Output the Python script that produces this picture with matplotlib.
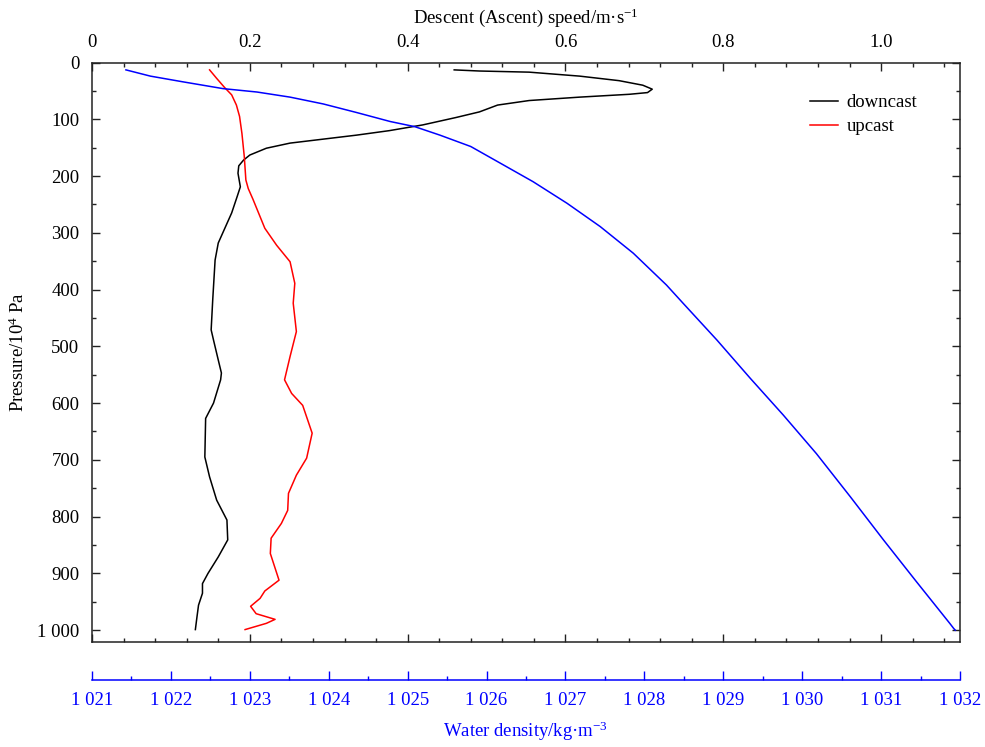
import numpy as np
import matplotlib
matplotlib.use("Agg")
import matplotlib.pyplot as plt
from matplotlib.ticker import MultipleLocator, FuncFormatter

# ------------------------------------------------
# Data
# ------------------------------------------------
# downcast descent speed (m/s) vs pressure (10^4 Pa)
down_p = [13, 15, 17, 24, 32, 40, 47, 53, 56, 61, 67, 75, 87, 97, 110, 120, 128,
          135, 142, 151, 163, 172, 182, 195, 219, 236, 265, 318, 348, 418, 471,
          489, 524, 547, 559, 600, 627, 695, 730, 771, 806, 841, 871, 900, 918,
          935, 956, 977, 999]
down_v = [0.459, 0.491, 0.554, 0.618, 0.668, 0.698, 0.710, 0.704, 0.681, 0.618,
          0.554, 0.514, 0.491, 0.461, 0.419, 0.377, 0.335, 0.293, 0.251, 0.221,
          0.200, 0.192, 0.186, 0.185, 0.188, 0.184, 0.177, 0.160, 0.156, 0.153,
          0.151, 0.154, 0.160, 0.164, 0.163, 0.154, 0.144, 0.143, 0.149, 0.158,
          0.171, 0.172, 0.160, 0.147, 0.140, 0.140, 0.135, 0.133, 0.131]

# upcast ascent speed (m/s) vs pressure
up_p = [13, 28, 44, 57, 75, 95, 125, 166, 207, 222, 241, 292, 322, 351, 389, 424,
        474, 518, 559, 583, 604, 653, 697, 727, 759, 789, 812, 838, 865, 912,
        931, 944, 958, 971, 981, 988, 999]
up_v = [0.149, 0.158, 0.168, 0.177, 0.183, 0.187, 0.190, 0.193, 0.195, 0.198,
        0.204, 0.219, 0.234, 0.251, 0.257, 0.255, 0.259, 0.251, 0.244, 0.253,
        0.267, 0.279, 0.272, 0.259, 0.249, 0.248, 0.240, 0.227, 0.226, 0.237,
        0.219, 0.213, 0.201, 0.208, 0.232, 0.221, 0.194]

# water density (kg/m^3) vs pressure
dens_p = [13, 24, 34, 46, 52, 61, 73, 88, 104, 113, 128, 148, 177, 210, 248,
          289, 336, 392, 424, 489, 556, 621, 689, 765, 841, 915, 988, 997, 1000]
dens = [1021.43, 1021.74, 1022.15, 1022.66, 1023.09, 1023.51, 1023.93,
        1024.35, 1024.78, 1025.09, 1025.41, 1025.80, 1026.17, 1026.59, 1027.02,
        1027.44, 1027.86, 1028.28, 1028.49, 1028.92, 1029.34, 1029.76, 1030.18,
        1030.61, 1031.03, 1031.45, 1031.87, 1031.92, 1031.94]

plt.rcParams["font.family"] = ["Liberation Serif", "DejaVu Serif"]
plt.rcParams["mathtext.fontset"] = "custom"
plt.rcParams["mathtext.rm"] = "Liberation Serif"
plt.rcParams["mathtext.it"] = "Liberation Serif:italic"
plt.rcParams["font.size"] = 13.5


def thousands(v, pos):
    s = f"{int(round(v)):,}"
    return s.replace(",", " ")


fig = plt.figure(figsize=(9.85, 7.47), dpi=100)
ax = fig.add_axes([92 / 985, 1 - 641.5 / 747, 868 / 985, 579 / 747])

# density axis first (twiny resets the host's tick sides)
ax2 = ax.twiny()
ax2.plot(dens, dens_p, color="blue", lw=1.1)
ax2.set_xlim(1021, 1032)
ax2.xaxis.set_ticks_position("bottom")
ax2.xaxis.set_label_position("bottom")
for name in ("top", "left", "right"):
    ax2.spines[name].set_visible(False)
ax2.spines["bottom"].set_position(("outward", 27.7))
ax2.spines["bottom"].set_color("blue")
ax2.spines["bottom"].set_linewidth(1.1)
ax2.xaxis.set_major_locator(MultipleLocator(1))
ax2.xaxis.set_minor_locator(MultipleLocator(0.5))
ax2.xaxis.set_major_formatter(FuncFormatter(thousands))
ax2.tick_params(axis="x", which="both", direction="in", colors="blue", width=1.0)
ax2.tick_params(axis="x", which="major", length=6.5, pad=9)
ax2.tick_params(axis="x", which="minor", length=3)
ax2.set_xlabel(r"Water density/kg·m$^{-3}$", color="blue", labelpad=7)

# speed curves on the host axes
ax.plot(down_v, down_p, color="black", lw=1.1, label="downcast")
ax.plot(up_v, up_p, color="red", lw=1.1, label="upcast")

ax.set_xlim(0, 1.1)
ax.set_ylim(1020, 0)
ax.xaxis.set_major_locator(MultipleLocator(0.2))
ax.xaxis.set_minor_locator(MultipleLocator(0.04))
ax.xaxis.set_major_formatter(FuncFormatter(lambda v, p: "0" if abs(v) < 1e-9 else f"{v:.1f}"))
ax.yaxis.set_major_locator(MultipleLocator(100))
ax.yaxis.set_minor_locator(MultipleLocator(50))
ax.yaxis.set_major_formatter(FuncFormatter(thousands))

ax.tick_params(axis="both", which="both", direction="in", top=True, bottom=True,
               left=True, right=True, labeltop=True, labelbottom=False,
               labelleft=True, labelright=False,
               width=1.0, colors="#222222", labelcolor="black")
ax.tick_params(axis="both", which="major", length=5.5)
ax.tick_params(axis="both", which="minor", length=3)
ax.tick_params(axis="x", which="major", pad=8)
ax.tick_params(axis="y", which="major", pad=9)
for sp in ax.spines.values():
    sp.set_linewidth(1.1)
    sp.set_color("#222222")

ax.xaxis.set_label_position("top")
ax.set_xlabel(r"Descent (Ascent) speed/m·s$^{-1}$", labelpad=8)
ax.set_ylabel(r"Pressure/10$^{4}$ Pa", labelpad=7)

ax.legend(loc="upper left", bbox_to_anchor=(0.827, 0.945), frameon=False,
          borderpad=0, borderaxespad=0, handlelength=1.5, handletextpad=0.45,
          labelspacing=0.36)

fig.savefig("out.png", dpi=100)
